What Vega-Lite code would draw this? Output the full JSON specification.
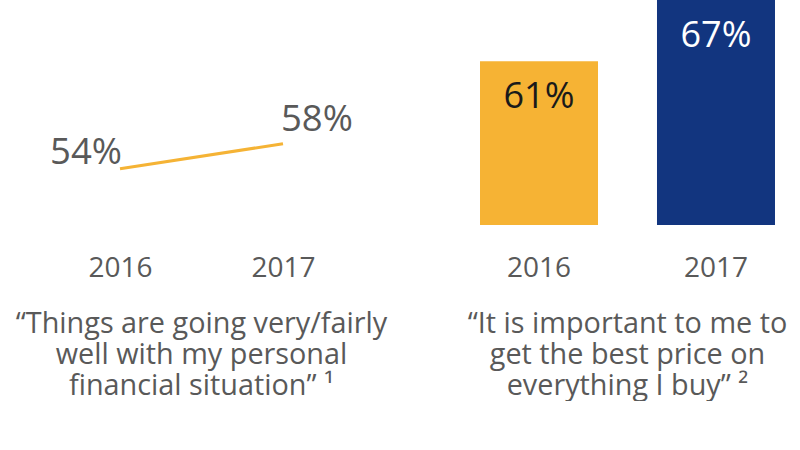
{
  "$schema": "https://vega.github.io/schema/vega-lite/v6.json",
  "background": "white",
  "padding": {"left": 15.5, "top": 0, "right": 0, "bottom": 0},
  "bounds": "flush",
  "spacing": 86,
  "config": {
    "view": {"stroke": null},
    "font": "Open Sans",
    "axisX": {"domain": false, "ticks": false, "grid": false, "labelFontSize": 28, "labelColor": "#595959", "labelPadding": 29, "labelFont": "Open Sans", "labelAngle": 0, "title": null},
    "title": {"orient": "bottom", "anchor": "middle", "fontSize": 28.8, "fontWeight": "normal", "color": "#595959", "lineHeight": 31, "offset": 28, "font": "Open Sans"}
  },
  "hconcat": [
    {
      "width": 326,
      "height": 225,
      "title": {"text": ["“Things are going very/fairly", "well with my personal", "financial situation” ¹"]},
      "data": {"values": [
        {"year": "2016", "value": 54, "label": "54%"},
        {"year": "2017", "value": 58, "label": "58%"}
      ]},
      "encoding": {
        "x": {"field": "year", "type": "ordinal", "scale": {"type": "point", "padding": 0.5}},
        "y": {"field": "value", "type": "quantitative", "scale": {"domain": [45, 81]}, "axis": null}
      },
      "layer": [
        {"mark": {"type": "line", "color": "#F5B335", "strokeWidth": 3}},
        {
          "transform": [{"filter": "datum.year == '2016'"}],
          "mark": {"type": "text", "align": "right", "baseline": "alphabetic", "dx": 2, "dy": -5, "fontSize": 36.5, "color": "#595959"},
          "encoding": {"text": {"field": "label"}}
        },
        {
          "transform": [{"filter": "datum.year == '2017'"}],
          "mark": {"type": "text", "align": "left", "baseline": "alphabetic", "dx": -2, "dy": -13, "fontSize": 36.5, "color": "#595959"},
          "encoding": {"text": {"field": "label"}}
        }
      ]
    },
    {
      "width": 354,
      "height": 225,
      "title": {"text": ["“It is important to me to", "get the best price on", "everything I buy” ²"]},
      "data": {"values": [
        {"year": "2016", "value": 61, "label": "61%"},
        {"year": "2017", "value": 67, "label": "67%"}
      ]},
      "encoding": {
        "x": {"field": "year", "type": "ordinal", "scale": {"type": "band", "paddingInner": 0.3333, "paddingOuter": 0.1667}},
        "y": {"field": "value", "type": "quantitative", "scale": {"domain": [45, 67], "zero": false}, "axis": null}
      },
      "layer": [
        {
          "mark": {"type": "bar"},
          "encoding": {
            "y2": {"datum": 45},
            "color": {"field": "year", "type": "nominal", "scale": {"range": ["#F6B334", "#12357F"]}, "legend": null}
          }
        },
        {
          "mark": {"type": "text", "baseline": "alphabetic", "dy": 47, "fontSize": 36, "color": "#1a1a1a"},
          "encoding": {
            "text": {"field": "label"},
            "color": {"condition": {"test": "datum.year == '2017'", "value": "#ffffff"}, "value": "#1a1a1a"}
          }
        }
      ]
    }
  ]
}
